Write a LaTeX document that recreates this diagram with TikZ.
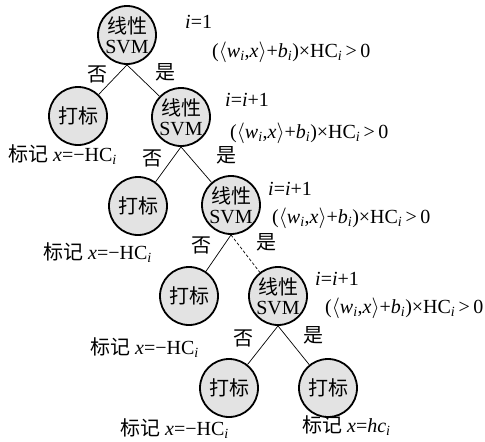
\documentclass[tikz,border=0pt]{standalone}
\usepackage{fontspec}
\setmainfont{Liberation Serif}
\newfontfamily\cjk{Noto Sans CJK SC}
\begin{document}
\begin{tikzpicture}[x=1pt,y=-1pt,
  every node/.style={font=\fontsize{20}{20}\selectfont},
  circ/.style={circle,draw,line width=1.8pt,fill=black!11,minimum size=58pt,inner sep=0pt,align=center},
  lbl/.style={anchor=west,inner sep=0pt},
  yn/.style={inner sep=0pt},
  edge/.style={line width=0.7pt}]
\useasboundingbox (0,0) rectangle (485,442);
\node[circ] (s1) at (127,35) {{\cjk 线性}\\SVM};
\node[circ] (d1) at (78,116) {\cjk 打标};
\node[circ] (s2) at (181,117) {{\cjk 线性}\\SVM};
\node[circ] (d2) at (138,206) {\cjk 打标};
\node[circ] (s3) at (231,205) {{\cjk 线性}\\SVM};
\node[circ] (d3) at (189,296) {\cjk 打标};
\node[circ] (s4) at (278,296) {{\cjk 线性}\\SVM};
\node[circ] (d4) at (229,388) {\cjk 打标};
\node[circ] (d5) at (328,388) {\cjk 打标};
\draw[edge] (s1.south) -- (d1);
\draw[edge] (s1.south) -- (s2);
\draw[edge] (s2.south) -- (d2);
\draw[edge] (s2.south) -- (s3);
\draw[edge] (s3.south) -- (d3);
\draw[edge,densely dashed] (s3.south) -- (s4);
\draw[edge] (s4.south) -- (d4);
\draw[edge] (s4.south) -- (d5);
\node[yn] (n1) at (97,74) {\cjk 否};
\node[yn] (y1) at (165,72) {\cjk 是};
\node[yn] (n2) at (152,158) {\cjk 否};
\node[yn] (y2) at (226,155) {\cjk 是};
\node[yn] (n3) at (201,245) {\cjk 否};
\node[yn] (y3) at (266,242) {\cjk 是};
\node[yn] (n4) at (243,338) {\cjk 否};
\node[yn] (y4) at (313,335) {\cjk 是};
\node[lbl] (i1) at (185,22) {\textit{i}=1};
\node[lbl] (f1) at (212,52) {($\langle$\textit{w}\textsubscript{\textit{i}},\textit{x}$\rangle$+\textit{b}\textsubscript{\textit{i}})×HC\textsubscript{\textit{i}}\,>\,0};
\node[lbl] (i2) at (225,100) {\textit{i}=\textit{i}+1};
\node[lbl] (f2) at (230,133) {($\langle$\textit{w}\textsubscript{\textit{i}},\textit{x}$\rangle$+\textit{b}\textsubscript{\textit{i}})×HC\textsubscript{\textit{i}}\,>\,0};
\node[lbl] (i3) at (268,189) {\textit{i}=\textit{i}+1};
\node[lbl] (f3) at (272,218) {($\langle$\textit{w}\textsubscript{\textit{i}},\textit{x}$\rangle$+\textit{b}\textsubscript{\textit{i}})×HC\textsubscript{\textit{i}}\,>\,0};
\node[lbl] (i4) at (315,279) {\textit{i}=\textit{i}+1};
\node[lbl] (f4) at (325,308) {($\langle$\textit{w}\textsubscript{\textit{i}},\textit{x}$\rangle$+\textit{b}\textsubscript{\textit{i}})×HC\textsubscript{\textit{i}}\,>\,0};
\node[lbl] (m1) at (8,155) {{\cjk 标记} \textit{x}=−HC\textsubscript{\textit{i}}};
\node[lbl] (m2) at (43,253) {{\cjk 标记} \textit{x}=−HC\textsubscript{\textit{i}}};
\node[lbl] (m3) at (90,348) {{\cjk 标记} \textit{x}=−HC\textsubscript{\textit{i}}};
\node[lbl] (m4) at (120,429) {{\cjk 标记} \textit{x}=−HC\textsubscript{\textit{i}}};
\node[lbl] (m5) at (302,426) {{\cjk 标记} \textit{x}=\textit{hc}\textsubscript{\textit{i}}};
\end{tikzpicture}
\end{document}
